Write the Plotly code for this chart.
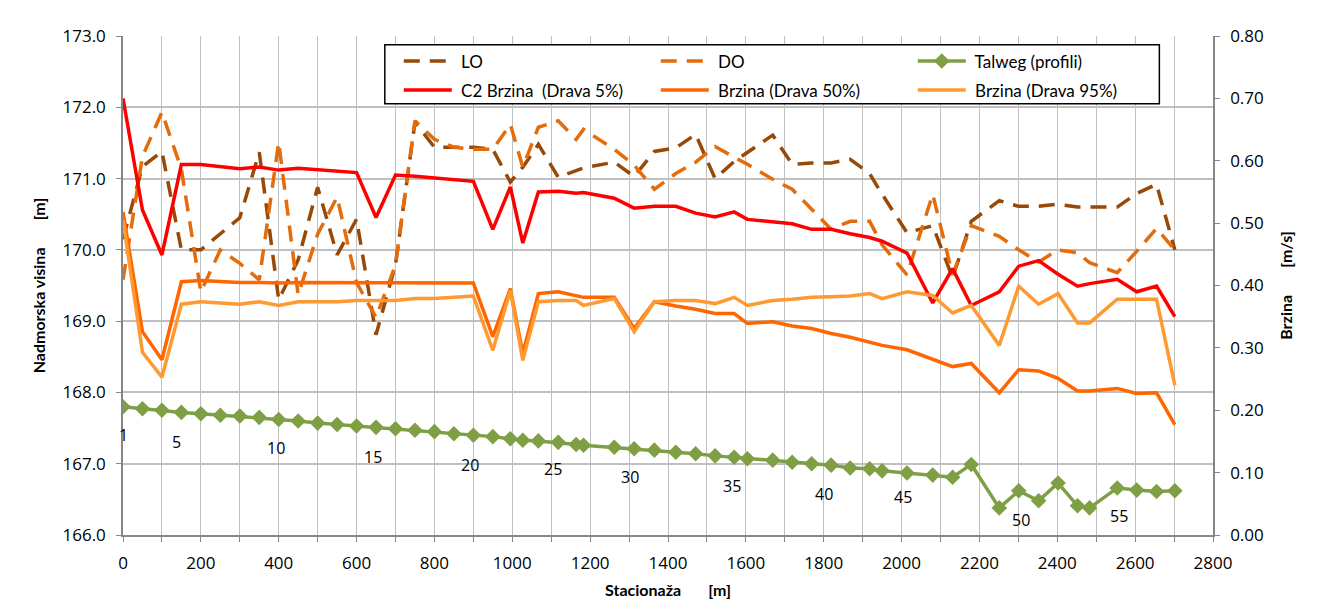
import plotly.graph_objects as go

# ---------------- data ----------------
station = [0, 50, 100, 150, 200, 250, 300, 350, 400, 450, 500, 550, 600, 650, 700, 750, 800, 850, 900, 950,
           995, 1027, 1067, 1118, 1164, 1183, 1262, 1313, 1365, 1420, 1471, 1521, 1570, 1604, 1669, 1719,
           1769, 1819, 1868, 1918, 1950, 2014, 2080, 2131, 2179, 2251, 2301, 2352, 2402, 2452, 2483, 2554,
           2604, 2655, 2702]

lo = [170.15, 171.17, 171.38, 170.00, 170.00, 170.22, 170.45, 171.37, 169.30, 169.86, 170.88, 169.93,
      170.43, 168.81, 169.79, 171.79, 171.44, 171.44, 171.44, 171.41, 170.95, 171.16, 171.48, 171.02,
      171.12, 171.15, 171.23, 171.03, 171.38, 171.43, 171.62, 171.00, 171.24, 171.37, 171.61, 171.20,
      171.22, 171.22, 171.27, 171.07, 170.78, 170.24, 170.34, 169.61, 170.40, 170.69, 170.61, 170.61,
      170.64, 170.60, 170.60, 170.60, 170.79, 170.92, 170.00]

do = [169.58, 171.31, 171.93, 171.13, 169.41, 170.00, 169.81, 169.58, 171.51, 169.37, 170.22, 170.74,
      169.54, 169.05, 169.79, 171.81, 171.55, 171.44, 171.41, 171.41, 171.76, 171.16, 171.72, 171.81,
      171.55, 171.69, 171.41, 171.19, 170.85, 171.07, 171.23, 171.45, 171.30, 171.20, 170.99, 170.85,
      170.57, 170.29, 170.40, 170.40, 170.07, 169.65, 170.78, 169.65, 170.34, 170.19, 170.00, 169.83,
      170.00, 169.96, 169.82, 169.68, 169.98, 170.30, 170.00]

talweg = [167.80, 167.77, 167.75, 167.72, 167.70, 167.68, 167.67, 167.65, 167.62, 167.60, 167.57, 167.55,
          167.53, 167.51, 167.49, 167.47, 167.45, 167.42, 167.40, 167.38, 167.35, 167.33, 167.32, 167.30,
          167.27, 167.26, 167.23, 167.21, 167.19, 167.16, 167.14, 167.11, 167.09, 167.07, 167.05, 167.02,
          167.00, 166.98, 166.94, 166.93, 166.90, 166.87, 166.84, 166.81, 166.99, 166.38, 166.62, 166.48,
          166.73, 166.41, 166.38, 166.66, 166.63, 166.61, 166.62]

v_5 = [0.700, 0.521, 0.449, 0.594, 0.594, 0.590, 0.587, 0.590, 0.585, 0.588, 0.586, 0.583, 0.581, 0.509,
       0.577, 0.575, 0.572, 0.570, 0.567, 0.490, 0.558, 0.468, 0.550, 0.551, 0.548, 0.549, 0.540, 0.524,
       0.527, 0.527, 0.516, 0.510, 0.518, 0.506, 0.502, 0.499, 0.490, 0.490, 0.483, 0.477, 0.471, 0.452,
       0.372, 0.427, 0.368, 0.390, 0.431, 0.440, 0.418, 0.399, 0.403, 0.410, 0.390, 0.399, 0.350]

v_50 = [0.518, 0.326, 0.281, 0.406, 0.408, 0.406, 0.405, 0.405, 0.404, 0.405, 0.405, 0.405, 0.405, 0.405,
        0.405, 0.405, 0.405, 0.404, 0.404, 0.318, 0.395, 0.291, 0.387, 0.390, 0.384, 0.381, 0.381, 0.331,
        0.374, 0.367, 0.362, 0.355, 0.355, 0.339, 0.342, 0.335, 0.331, 0.323, 0.317, 0.309, 0.304, 0.297,
        0.281, 0.270, 0.275, 0.228, 0.265, 0.263, 0.251, 0.231, 0.231, 0.235, 0.227, 0.228, 0.177]

v_95 = [0.505, 0.293, 0.253, 0.370, 0.374, 0.372, 0.370, 0.374, 0.368, 0.374, 0.374, 0.374, 0.376, 0.376,
        0.376, 0.379, 0.379, 0.381, 0.383, 0.296, 0.392, 0.280, 0.374, 0.376, 0.376, 0.368, 0.379, 0.326,
        0.374, 0.376, 0.376, 0.371, 0.381, 0.368, 0.376, 0.378, 0.381, 0.382, 0.383, 0.387, 0.379, 0.390,
        0.384, 0.356, 0.368, 0.304, 0.399, 0.370, 0.387, 0.340, 0.340, 0.378, 0.378, 0.378, 0.240]

profile_labels = ["1", "5", "10", "15", "20", "25", "30", "35", "40", "45", "50", "55"]
profile_label_x = [0, 138, 392, 641, 891, 1104, 1303, 1564, 1802, 2004, 2306, 2558]
profile_label_y = [167.40, 167.31, 167.22, 167.10, 166.98, 166.92, 166.81, 166.69, 166.58, 166.53, 166.21, 166.27]

x_ticks = list(range(0, 2801, 200))
y_left_ticks = [166, 167, 168, 169, 170, 171, 172, 173]
y_right_ticks = [0.0, 0.1, 0.2, 0.3, 0.4, 0.5, 0.6, 0.7, 0.8]

# ---------------- style ----------------
FONT = "Lato"
NUMFONT = "Open Sans"
C_LO = "#984807"
C_DO = "#E46C0A"
C_TAL = "#7F9F45"
C_V5 = "#FF0000"
C_V50 = "#FF6600"
C_V95 = "#FF9A33"
GRID = "#C0C0C0"
AXIS = "#868686"
GAP = "\u00a0" * 7

fig = go.Figure()

fig.add_trace(go.Scatter(x=station, y=lo, name="\u00a0LO", mode="lines",
                         line=dict(color=C_LO, width=3.5, dash="16px,10px"), legend="legend"))
fig.add_trace(go.Scatter(x=station, y=do, name="\u00a0DO", mode="lines",
                         line=dict(color=C_DO, width=3.5, dash="16px,10px"), legend="legend"))
fig.add_trace(go.Scatter(x=station, y=talweg, name="\u00a0Talweg (profili)", mode="lines+markers",
                         line=dict(color=C_TAL, width=3.5),
                         marker=dict(symbol="diamond", size=12, color=C_TAL), legend="legend"))
fig.add_trace(go.Scatter(x=station, y=v_5, name="\u00a0C2 Brzina  (Drava 5%)", mode="lines", yaxis="y2",
                         line=dict(color=C_V5, width=3.5), legend="legend2"))
fig.add_trace(go.Scatter(x=station, y=v_50, name="\u00a0Brzina (Drava 50%)", mode="lines", yaxis="y2",
                         line=dict(color=C_V50, width=3.5), legend="legend2"))
fig.add_trace(go.Scatter(x=station, y=v_95, name="\u00a0Brzina (Drava 95%)", mode="lines", yaxis="y2",
                         line=dict(color=C_V95, width=3.5), legend="legend2"))

for t, lx, ly in zip(profile_labels, profile_label_x, profile_label_y):
    fig.add_annotation(x=lx, y=ly, xref="x", yref="y", text=t, showarrow=False,
                       font=dict(family=NUMFONT, size=16, color="#000000"))

legend_common = dict(orientation="h", xanchor="left", yanchor="middle", bgcolor="rgba(0,0,0,0)",
                     borderwidth=0, font=dict(family=FONT, size=17, color="#000000"),
                     entrywidth=194, entrywidthmode="pixels", itemwidth=48, tracegroupgap=0)

fig.add_shape(type="rect", xref="paper", yref="paper", x0=0.2402, x1=0.9508, y0=0.8643, y1=0.9827,
              line=dict(color="#000000", width=1.5), fillcolor="#FFFFFF", layer="above")

title_font = dict(family=FONT, size=16, weight="bold", color="#000000")
tick_font = dict(family=NUMFONT, size=17, color="#000000")

fig.update_layout(
    width=1309, height=607, autosize=False,
    margin=dict(l=115, r=104, t=28, b=80),
    paper_bgcolor="#FFFFFF", plot_bgcolor="#FFFFFF",
    font=dict(family=FONT, size=16, color="#000000"),
    showlegend=True,
    legend=dict(x=0.253, y=0.949, **legend_common),
    legend2=dict(x=0.253, y=0.891, **legend_common),
    xaxis=dict(range=[0, 2800], tickvals=x_ticks, showgrid=True, gridcolor=GRID, gridwidth=1,
               minor=dict(dtick=100, showgrid=True, gridcolor=GRID, ticks="outside", ticklen=5, tickcolor=AXIS),
               showline=True, linecolor=AXIS, linewidth=1.5, ticks="outside", ticklen=5, tickcolor=AXIS,
               zeroline=False, tickfont=tick_font, ticklabelstandoff=7,
               title=dict(text="Stacionaža" + GAP + "[m]", font=title_font, standoff=12)),
    yaxis=dict(range=[166, 173], tickvals=y_left_ticks, tickformat=".1f", showgrid=True, gridcolor=GRID,
               gridwidth=1.5, showline=True, linecolor=AXIS, linewidth=1.5, ticks="outside", ticklen=5,
               tickcolor=AXIS, zeroline=False, tickfont=tick_font, ticklabelstandoff=7,
               title=dict(text="Nadmorska visina" + GAP + "[m]", font=title_font, standoff=13)),
    yaxis2=dict(range=[0, 0.8], tickvals=y_right_ticks, tickformat=".2f", overlaying="y", side="right",
                showgrid=False, showline=True, linecolor=AXIS, linewidth=1.5, ticks="outside", ticklen=5,
                tickcolor=AXIS, zeroline=False, tickfont=tick_font, ticklabelstandoff=7,
                title=dict(text="Brzina" + GAP + "[m/s]", font=title_font, standoff=18)),
)

fig.write_html("out.html")
